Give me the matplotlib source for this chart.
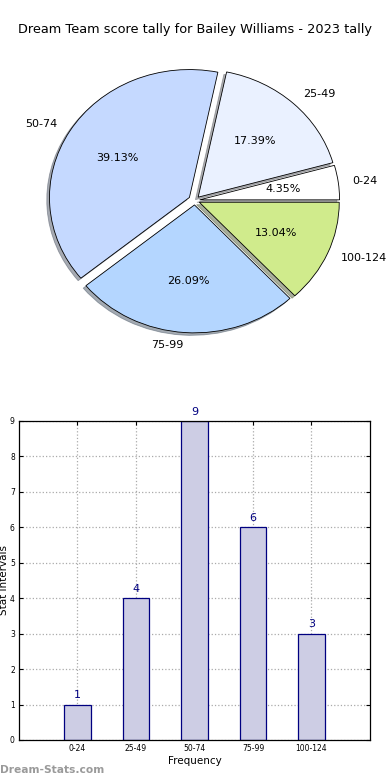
#!/usr/bin/env python3
"""Dream Team score tally: pie of share per interval plus frequency bars."""

import matplotlib

matplotlib.use("Agg")
import matplotlib.pyplot as plt
import numpy as np

TITLE = "Dream Team score tally for Bailey Williams - 2023 tally"
INTERVALS = ["0-24", "25-49", "50-74", "75-99", "100-124"]
COUNTS = [1, 4, 9, 6, 3]
PIE_COLORS = ["#ffffff", "#eaf1ff", "#c5d9ff", "#b4d6ff", "#d0eb8c"]
EXPLODE = [0.035, 0.035, 0.045, 0.035, 0.035]

fig = plt.figure(figsize=(3.9, 7.8), dpi=100)

# --- pie ---
ax_pie = fig.add_axes([0.051, 0.538, 0.897, 0.41])
ax_pie.pie(
    COUNTS,
    labels=INTERVALS,
    colors=PIE_COLORS,
    explode=EXPLODE,
    autopct="%.2f%%",
    shadow={"ox": -0.014, "oy": -0.014, "shade": 0.6},
    startangle=0,
    counterclock=True,
    wedgeprops={"edgecolor": "black", "linewidth": 0.6},
    textprops={"fontsize": 8},
)
ax_pie.set_aspect("auto")
fig.text(0.5, 1 - 30 / 780, TITLE, ha="center", va="center", fontsize=9.3)

# --- bars ---
ax_bar = fig.add_axes([0.0487, 0.0513, 0.9, 0.409])
x = np.arange(len(INTERVALS))
ax_bar.bar(x, COUNTS, width=0.45, color="#cdcde4", edgecolor="#000080",
           linewidth=0.9, zorder=2)
for xi, c in zip(x, COUNTS):
    ax_bar.text(xi, c + 0.12, str(c), ha="center", va="bottom",
                color="#000080", fontsize=8)
ax_bar.set_xlim(-1, 5)
ax_bar.set_ylim(0, 9)
ax_bar.set_xticks(x)
ax_bar.set_xticklabels(INTERVALS)
ax_bar.set_yticks(range(10))
ax_bar.tick_params(labelsize=5.5, direction="in", length=3, top=True,
                   right=True, pad=3)
ax_bar.grid(True, linestyle=":", color="#aaaaaa", linewidth=0.9, zorder=0)
ax_bar.set_axisbelow(True)
ax_bar.set_xlabel("Frequency", fontsize=7.5, labelpad=2)
ax_bar.set_ylabel("Stat Intervals", fontsize=7.5, labelpad=1)
for sp in ax_bar.spines.values():
    sp.set_linewidth(0.9)

fig.text(0.0, 1 - 770 / 780, "Dream-Stats.com", ha="left", va="center",
         fontsize=7.7, fontweight="bold", color="#9a9a9a")

fig.savefig("out.png", dpi=100)
